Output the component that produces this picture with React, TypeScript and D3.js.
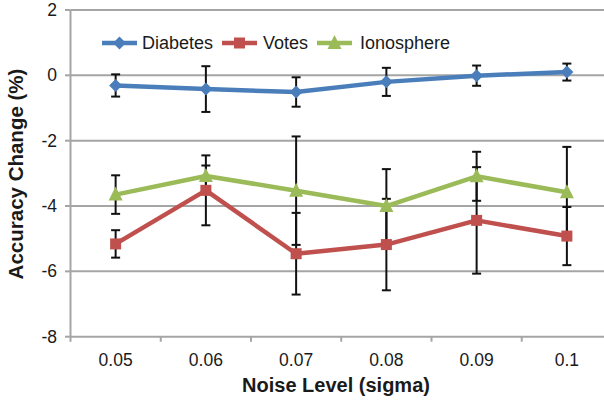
import React from "react";
import * as d3 from "d3";

const categories = ["0.05", "0.06", "0.07", "0.08", "0.09", "0.1"];
const diabetes = [-0.31, -0.42, -0.51, -0.2, -0.01, 0.1];
const diabetesErr = [0.34, 0.7, 0.45, 0.43, 0.31, 0.26];
const votes = [-5.16, -3.52, -5.46, -5.18, -4.44, -4.92];
const votesErr = [0.42, 1.07, 1.25, 1.4, 1.63, 0.89];
const ionosphere = [-3.65, -3.08, -3.53, -4.0, -3.09, -3.58];
const ionosphereErr = [0.59, 0.32, 1.66, 1.13, 0.75, 1.39];
const yTicks = [2, 0, -2, -4, -6, -8];

const W = 604;
const H = 406;
const FONT = "'Liberation Sans', Arial, Helvetica, sans-serif";

type Series = { name: string; values: number[]; err: number[]; color: string; marker: string };

const series: Series[] = [
  { name: "Diabetes", values: diabetes, err: diabetesErr, color: "#4a7ebb", marker: "diamond" },
  { name: "Votes", values: votes, err: votesErr, color: "#c0504d", marker: "square" },
  { name: "Ionosphere", values: ionosphere, err: ionosphereErr, color: "#9bbb59", marker: "triangle" },
];

function Marker({ type, x, y, color }: { type: string; x: number; y: number; color: string }) {
  if (type === "diamond") {
    const s = 6.5;
    return <path d={`M${x},${y - s}L${x + s},${y}L${x},${y + s}L${x - s},${y}Z`} fill={color} />;
  }
  if (type === "square") {
    const s = 5.5;
    return <rect x={x - s} y={y - s} width={2 * s} height={2 * s} fill={color} />;
  }
  const s = 7;
  return <path d={`M${x},${y - s - 1}L${x + s},${y + s - 1}L${x - s},${y + s - 1}Z`} fill={color} />;
}

export default function App() {
  const x = d3.scaleBand<string>().domain(categories).range([70.5, 612]);
  const y = d3.scaleLinear().domain([-8, 2]).range([336.7, 10]);
  const cx = (c: string) => (x(c) as number) + x.bandwidth() / 2;
  const line = d3
    .line<number>()
    .x((_, i) => cx(categories[i]))
    .y((d) => y(d));
  const grid = "#a5a5a5";

  const legendItems = [
    { s: series[0], x0: 102, tx: 142 },
    { s: series[1], x0: 222, tx: 263 },
    { s: series[2], x0: 317, tx: 360 },
  ];
  const ly = 43;

  return (
    <svg
      width={W}
      height={H}
      style={{ position: "absolute", left: 0, top: 0, background: "#fff" }}
      fontFamily={FONT}
    >
      <rect width={W} height={H} fill="#fff" />
      {yTicks.map((t) => (
        <g key={t}>
          {t !== -8 && <line x1={70.5} x2={W} y1={y(t)} y2={y(t)} stroke={grid} strokeWidth={2} />}
          <line x1={65} x2={70.5} y1={y(t)} y2={y(t)} stroke={grid} strokeWidth={2} />
          <text x={57} y={y(t)} dy="0.35em" textAnchor="end" fontSize={17.5} fill="#1a1a1a">
            {t}
          </text>
        </g>
      ))}
      <line x1={70.5} x2={70.5} y1={y(2)} y2={y(-8) + 5} stroke={grid} strokeWidth={2} />
      <line x1={70.5} x2={W} y1={y(-8)} y2={y(-8)} stroke={grid} strokeWidth={2} />
      {categories.map((c, i) => (
        <g key={c}>
          {i > 0 && (
            <line x1={x(c)} x2={x(c)} y1={y(-8)} y2={y(-8) + 5} stroke={grid} strokeWidth={2} />
          )}
          <text x={cx(c)} y={360} dy="0.35em" textAnchor="middle" fontSize={17.5} fill="#1a1a1a">
            {c}
          </text>
        </g>
      ))}
      {series.map((s) => (
        <path key={s.name} d={line(s.values) || ""} fill="none" stroke={s.color} strokeWidth={4.5} strokeLinejoin="round" />
      ))}
      {series.map((s) => (
        <g key={s.name + "err"}>
          {s.values.map((v, i) => {
            const px = cx(categories[i]);
            const top = y(v + s.err[i]);
            const bot = y(v - s.err[i]);
            return (
              <g key={i} stroke="#111" strokeWidth={2}>
                <line x1={px} x2={px} y1={top} y2={bot} />
                <line x1={px - 4.5} x2={px + 4.5} y1={top} y2={top} />
                <line x1={px - 4.5} x2={px + 4.5} y1={bot} y2={bot} />
              </g>
            );
          })}
        </g>
      ))}
      {series.map((s) => (
        <g key={s.name + "m"}>
          {s.values.map((v, i) => (
            <Marker key={i} type={s.marker} x={cx(categories[i])} y={y(v)} color={s.color} />
          ))}
        </g>
      ))}
      {legendItems.map(({ s, x0, tx }) => (
        <g key={s.name + "lg"}>
          <line x1={x0} x2={x0 + 35} y1={ly} y2={ly} stroke={s.color} strokeWidth={4.5} />
          <Marker type={s.marker} x={x0 + 17.5} y={ly} color={s.color} />
          <text x={tx} y={ly} dy="0.35em" fontSize={18} fill="#1a1a1a">
            {s.name}
          </text>
        </g>
      ))}
      <text x={336} y={385} dy="0.35em" textAnchor="middle" fontSize={20} fontWeight="bold" fill="#1a1a1a">
        Noise Level (sigma)
      </text>
      <text
        transform={`translate(16,174) rotate(-90)`}
        dy="0.35em"
        textAnchor="middle"
        fontSize={20.5}
        fontWeight="bold"
        fill="#1a1a1a"
      >
        Accuracy Change (%)
      </text>
    </svg>
  );
}
